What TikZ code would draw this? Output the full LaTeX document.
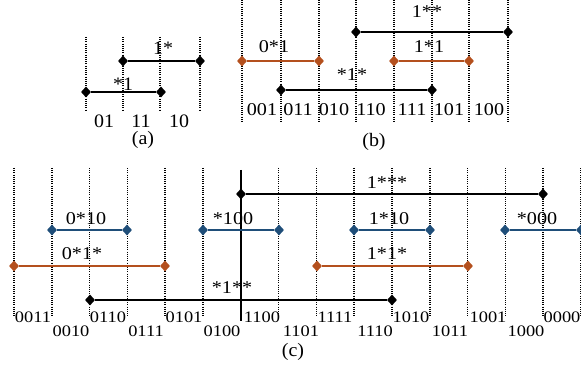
\documentclass[tikz,border=0pt]{standalone}
\usepackage{fontspec}
\setmainfont{Liberation Serif}
\usetikzlibrary{shapes.geometric}
\definecolor{segred}{HTML}{B4501E}
\definecolor{segblue}{HTML}{1F4E79}
\tikzset{
  gridline/.style={line width=1.6pt, dash pattern=on 1.1pt off 1.1pt},
  solidline/.style={line width=2.5pt},
  seg/.style={line width=2.5pt},
  endpt/.style={diamond, fill=#1, draw=none, inner sep=0pt, minimum width=10pt, minimum height=11pt},
  endpt/.default=black,
  laba/.style={font=\fontsize{19}{19}\selectfont, inner sep=0pt, xscale=1.05},
  labb/.style={font=\fontsize{18}{18}\selectfont, inner sep=0pt, xscale=1.12},
  labc/.style={font=\fontsize{18}{18}\selectfont, inner sep=0pt, xscale=1.12},
  labbot/.style={font=\fontsize{16}{16}\selectfont, inner sep=0pt, xscale=1.15},
}
\begin{document}
\begin{tikzpicture}[x=1pt, y=-1pt]
\useasboundingbox (0,0) rectangle (581,371);
% ---------- (a) ----------
\foreach \x in {86,123,160,200} \draw[gridline] (\x,37) -- (\x,110);
\node[endpt] (a1) at (123,61) {};
\node[endpt] (a2) at (200,61) {};
\draw[seg] (a1) -- (a2);
\node[laba] (la1) at (163,48) {1*};
\node[endpt] (a3) at (86,92) {};
\node[endpt] (a4) at (161,92) {};
\draw[seg] (a3) -- (a4);
\node[laba] (la2) at (123,84) {*1};
\node[laba] (ta1) at (104,121) {01};
\node[laba] (ta2) at (141,121) {11};
\node[laba] (ta3) at (179,121) {10};
\node[laba] (capa) at (143,140) {(a)};
% ---------- (b) ----------
\foreach \x in {242,281,319,356,394,432,469,508} \draw[gridline] (\x,0) -- (\x,122);
\node[endpt] (b1) at (356,32) {};
\node[endpt] (b2) at (508,32) {};
\draw[seg] (b1) -- (b2);
\node[labb] (lb1) at (427,12) {1**};
\node[endpt=segred] (b3) at (242,61) {};
\node[endpt=segred] (b4) at (319,61) {};
\draw[seg, segred] (b3) -- (b4);
\node[labb] (lb2) at (274,47) {0*1};
\node[endpt=segred] (b5) at (394,61) {};
\node[endpt=segred] (b6) at (469,61) {};
\draw[seg, segred] (b5) -- (b6);
\node[labb] (lb3) at (429,47) {1*1};
\node[endpt] (b7) at (281,90) {};
\node[endpt] (b8) at (432,90) {};
\draw[seg] (b7) -- (b8);
\node[labb] (lb4) at (352,75) {*1*};
\node[labb] (tb1) at (262,110) {001};
\node[labb] (tb2) at (298,110) {011};
\node[labb] (tb3) at (334,110) {010};
\node[labb] (tb4) at (371,110) {110};
\node[labb] (tb5) at (412,110) {111};
\node[labb] (tb6) at (449,110) {101};
\node[labb] (tb7) at (489,110) {100};
\node[laba] (capb) at (374,142) {(b)};
% ---------- (c) ----------
\foreach \k in {0,...,5,7,8,...,15} \draw[gridline] ({14+37.8*\k},168) -- ({14+37.8*\k},317);
\draw[solidline] (241,170) -- (241,321);
\node[endpt] (c1) at (241,194) {};
\node[endpt] (c2) at (543,194) {};
\draw[seg] (c1) -- (c2);
\node[labc] (lc1) at (387,183) {1***};
\node[endpt=segblue] (c3) at (52,230) {};
\node[endpt=segblue] (c4) at (127,230) {};
\draw[seg, segblue] (c3) -- (c4);
\node[labc] (lc2) at (86,219) {0*10};
\node[endpt=segblue] (c5) at (203,230) {};
\node[endpt=segblue] (c6) at (279,230) {};
\draw[seg, segblue] (c5) -- (c6);
\node[labc] (lc3) at (233,219) {*100};
\node[endpt=segblue] (c7) at (354,230) {};
\node[endpt=segblue] (c8) at (430,230) {};
\draw[seg, segblue] (c7) -- (c8);
\node[labc] (lc4) at (389,219) {1*10};
\node[endpt=segblue] (c9) at (505,230) {};
\node[endpt=segblue] (c10) at (581,230) {};
\draw[seg, segblue] (c9) -- (c10);
\node[labc] (lc5) at (537,219) {*000};
\node[endpt=segred] (c11) at (14,266) {};
\node[endpt=segred] (c12) at (165,266) {};
\draw[seg, segred] (c11) -- (c12);
\node[labc] (lc6) at (82,254) {0*1*};
\node[endpt=segred] (c13) at (317,266) {};
\node[endpt=segred] (c14) at (468,266) {};
\draw[seg, segred] (c13) -- (c14);
\node[labc] (lc7) at (387,254) {1*1*};
\node[endpt] (c15) at (90,300) {};
\node[endpt] (c16) at (392,300) {};
\draw[seg] (c15) -- (c16);
\node[labc] (lc8) at (232,288) {*1**};
% bottom labels
\node[labbot] (tc1) at (33,317) {0011};
\node[labbot] (tc2) at (71,331) {0010};
\node[labbot] (tc3) at (108,317) {0110};
\node[labbot] (tc4) at (146,331) {0111};
\node[labbot] (tc5) at (184,317) {0101};
\node[labbot] (tc6) at (222,331) {0100};
\node[labbot] (tc7) at (262,317) {1100};
\node[labbot] (tc8) at (301,331) {1101};
\node[labbot] (tc9) at (335,317) {1111};
\node[labbot] (tc10) at (375,331) {1110};
\node[labbot] (tc11) at (411,317) {1010};
\node[labbot] (tc12) at (450,331) {1011};
\node[labbot] (tc13) at (488,317) {1001};
\node[labbot] (tc14) at (526,331) {1000};
\node[labbot] (tc15) at (562,317) {0000};
\node[laba] (capc) at (293,352) {(c)};
\end{tikzpicture}
\end{document}
